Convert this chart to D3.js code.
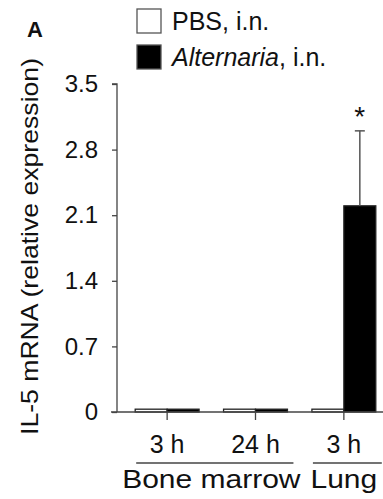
<!DOCTYPE html>
<html>
<head>
<meta charset="utf-8">
<script src="https://cdn.jsdelivr.net/npm/d3@7"></script>
<style>
  body { margin: 0; background: #fff; }
  text { font-family: "Liberation Sans", Arial, sans-serif; fill: #111; }
</style>
</head>
<body>
<svg id="chart"></svg>
<script>
// data
const tissues = ['Bone marrow', 'Bone marrow', 'Lung'];
const timepoints = ['3 h', '24 h', '3 h'];
const groupIds = ['bm3', 'bm24', 'lung3'];
const seriesNames = ['PBS, i.n.', 'Alternaria, i.n.'];
const pbsValues = [0.03, 0.03, 0.03];
const alternariaValues = [0.03, 0.03, 2.2];
const alternariaErrors = [0, 0, 0.8];
const significant = [false, false, true];
const yTicks = [0, 0.7, 1.4, 2.1, 2.8, 3.5];

const width = 383, height = 499;
const margin = { top: 84, right: -5, bottom: 87, left: 117 };
const innerW = width - margin.left - margin.right;
const innerH = height - margin.top - margin.bottom;

const svg = d3.select('#chart').attr('width', width).attr('height', height);
const chart = svg.append('g').attr('transform', `translate(${margin.left},${margin.top})`);

const x = d3.scaleBand().domain(groupIds).range([6, innerW]).paddingInner(0.277).paddingOuter(0.138);
const xSub = d3.scaleBand().domain(seriesNames).range([0, x.bandwidth()]);
const y = d3.scaleLinear().domain([0, 3.5]).range([innerH, 0]);

// bars
const rows = groupIds.map((g, i) => ({
  id: g,
  vals: [
    { s: seriesNames[0], v: pbsValues[i], e: 0 },
    { s: seriesNames[1], v: alternariaValues[i], e: alternariaErrors[i] }
  ],
  sig: significant[i]
}));

const grp = chart.selectAll('g.grp').data(rows).enter().append('g')
  .attr('class', 'grp')
  .attr('transform', d => `translate(${x(d.id)},0)`);

grp.selectAll('rect').data(d => d.vals).enter().append('rect')
  .attr('x', d => xSub(d.s))
  .attr('y', d => y(d.v))
  .attr('width', xSub.bandwidth())
  .attr('height', d => innerH - y(d.v))
  .style('fill', d => d.s === seriesNames[0] ? '#fff' : '#000')
  .style('stroke', '#222')
  .style('stroke-width', 1.3);

// error bars
const errs = grp.selectAll('g.err').data(d => d.vals.filter(v => v.e > 0)).enter().append('g')
  .attr('class', 'err');
errs.append('line')
  .attr('x1', d => xSub(d.s) + xSub.bandwidth() / 2)
  .attr('x2', d => xSub(d.s) + xSub.bandwidth() / 2)
  .attr('y1', d => y(d.v))
  .attr('y2', d => y(d.v + d.e))
  .style('stroke', '#555').style('stroke-width', 1.5);
errs.append('line')
  .attr('x1', d => xSub(d.s) + xSub.bandwidth() / 2 - 5)
  .attr('x2', d => xSub(d.s) + xSub.bandwidth() / 2 + 5)
  .attr('y1', d => y(d.v + d.e))
  .attr('y2', d => y(d.v + d.e))
  .style('stroke', '#555').style('stroke-width', 1.5);

grp.filter(d => d.sig).append('text')
  .attr('x', d => xSub(seriesNames[1]) + xSub.bandwidth() / 2)
  .attr('y', d => y(d.vals[1].v + d.vals[1].e) - 5)
  .attr('text-anchor', 'middle')
  .style('font-size', '28px')
  .text('*');

// y axis
const yAxis = d3.axisLeft(y).tickValues(yTicks).tickSize(5).tickPadding(14)
  .tickFormat(d => d === 0 ? '0' : d3.format('.1f')(d));
chart.append('g').attr('class', 'axis y').call(yAxis)
  .call(g => g.select('.domain').attr('d', `M-5,0H0V${innerH}`))
  .call(g => g.selectAll('text').style('font-size', '24px'))
  .call(g => g.selectAll('line, path').style('stroke', '#444').style('stroke-width', 1.3));

// x axis
const xAxis = d3.axisBottom(x).tickSize(8).tickPadding(10).tickFormat((d, i) => timepoints[i]);
chart.append('g').attr('class', 'axis x')
  .attr('transform', `translate(0,${innerH})`)
  .call(xAxis)
  .call(g => g.select('.domain').attr('d', `M-6,0H${innerW + 10}`))
  .call(g => g.selectAll('text').style('font-size', '25px').attr('dy', '0.9em'))
  .call(g => g.selectAll('line, path').style('stroke', '#444').style('stroke-width', 1.3));

// tissue group brackets
const tissueGroups = d3.groups(groupIds.map((g, i) => ({ g, t: tissues[i] })), d => d.t);
const brk = chart.selectAll('g.tissue').data(tissueGroups).enter().append('g').attr('class', 'tissue');
brk.append('line')
  .attr('x1', d => x(d[1][0].g) + 1)
  .attr('x2', d => x(d[1][d[1].length - 1].g) + x.bandwidth() + 6)
  .attr('y1', innerH + 51).attr('y2', innerH + 51)
  .style('stroke', '#444').style('stroke-width', 1.3);
brk.append('text')
  .attr('transform', d => {
    const cx = (x(d[1][0].g) + x(d[1][d[1].length - 1].g) + x.bandwidth()) / 2;
    return `translate(${cx},${innerH + 76}) scale(1.2,1)`;
  })
  .attr('text-anchor', 'middle')
  .style('font-size', '25px')
  .text(d => d[0]);

// y title
svg.append('text')
  .attr('transform', `translate(38,${(58 + 435) / 2}) rotate(-90)`)
  .attr('text-anchor', 'middle')
  .attr('textLength', 377)
  .attr('lengthAdjust', 'spacingAndGlyphs')
  .style('font-size', '24px')
  .text('IL-5 mRNA (relative expression)');

// panel letter
svg.append('text').attr('x', 27).attr('y', 37)
  .style('font-size', '22px').style('font-weight', 'bold')
  .text('A');

// legend
const legend = svg.selectAll('g.legend').data(seriesNames).enter().append('g')
  .attr('class', 'legend')
  .attr('transform', (d, i) => `translate(137,${9 + i * 36})`);
legend.append('rect')
  .attr('width', 24).attr('height', 24)
  .style('fill', (d, i) => i === 0 ? '#fff' : '#000')
  .style('stroke', '#555').style('stroke-width', 1.3);
legend.append('text')
  .attr('x', 35).attr('y', 21)
  .style('font-size', '25px')
  .each(function (d, i) {
    const t = d3.select(this);
    if (i === 0) { t.text(d); return; }
    t.append('tspan').style('font-style', 'italic').text('Alternaria');
    t.append('tspan').text(', i.n.');
  });
</script>
</body>
</html>
